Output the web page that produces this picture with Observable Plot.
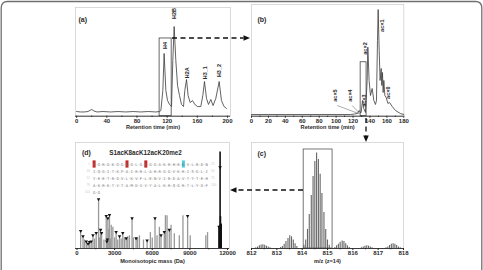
<!DOCTYPE html>
<html><head><meta charset="utf-8">
<script src="https://cdn.jsdelivr.net/npm/d3@7"></script>
<script src="https://cdn.jsdelivr.net/npm/@observablehq/plot@0.6"></script>
<style>
html,body{margin:0;padding:0;background:#fff;}
#fig{position:relative;width:483px;height:270px;overflow:hidden;background:#fff;}
#fig svg{position:absolute;left:0;top:0;}
</style></head><body><div id="fig"></div>
<script>
// ---------- (a) histone chromatogram ----------
const aTime = [0,5,10,15,20,23,27,35,45,55,65,75,85,95,105,110,111.7,114.3,116,118.3,120.5,123.2,125.8,127.5,129.3,131.5,133.8,136.4,139,141.7,143.4,145.7,147.8,150.5,153.6,156.7,160.3,164.6,167.3,169.5,172.2,174.8,177.9,180.9,184.5,189,192,195.5,198.7];
const aSignal = [4.3,3.9,3.9,4.3,6.2,4.8,3.9,4.3,3.9,4.3,3.9,4.3,3.9,4.3,3.9,4.3,5.2,23.6,57.7,23.6,14.4,10.8,8.9,51.2,82.5,51.2,28.2,19,10.8,8.9,23.6,33.8,19,12.6,14.4,10.8,8.9,8.9,19,31.9,16.3,10.8,15.4,9.8,16.3,31.9,14.4,8.9,7.1];
const aPeakNames = ["H4","H2B","H2A","H3_1","H3_2"];
const aPeakTime = [117,129.5,146,170,189];
const aPeakLabelY = [65,94.5,40,40,42];
const aBoxTime = [110,126];
const aBoxTop = 71.5;
const aTicks = [0,40,80,120,160,200];
const aMinor = [20,60,100,140,180];

// ---------- (b) H4 proteoform chromatogram ----------
const bTime = [0,20,40,60,80,100,117,122,125,127.3,128.5,129.6,131.2,132.7,134.7,136.7,137.5,139,140.6,142.6,144.6,146.5,147.7,148.9,149.7,150.9,152,153.3,154,154.8,155.6,156.4,157.6,159.2,161.2,163.1,166.3,170.2,176,180];
const bSignal = [1.5,1.5,1.5,1.5,1.5,1.5,1.5,2,2.4,5.1,3.3,3.3,14,6.9,3.3,32,61.8,32,18.5,24.8,14,10.5,14,67.8,95.5,58.8,32,42.7,27.5,39.1,21.2,32,18.5,16.7,11.4,12.3,8.7,5.1,2.4,1.5];
const bPeakNames = ["ac×5","ac×4","ac×3","ac×2","ac×1","ac×0"];
const bPeakTime = [99.3,117,133.5,135,154.5,161.6];
const bPeakLabelY = [18.5,18.5,14,60.6,81,21];
const bLeaderFrom = [[101.3,9.6],[119,9.6]];
const bLeaderTo = [[127,2.2],[128,2.2]];
const bBoxTime = [129,136];
const bBoxTop = 48.3;
const bTicks = [0,20,40,60,80,100,120,140,160,180];
const bMinor = [10,30,50,70,90,110,130,150,170];

// ---------- (c) isotopic envelope, m/z (z=14) ----------
const cMz = [812.17,812.24,812.31,812.38,812.45,812.52,812.59,812.66,812.73,
  813.15,813.22,813.29,813.36,813.44,813.51,813.58,813.65,813.72,813.79,
  814.07,814.14,814.21,814.28,814.36,814.43,814.50,814.57,814.64,814.71,814.78,814.86,814.93,815.00,815.07,
  815.29,815.36,815.43,815.50,815.58,815.65,815.72,815.79,815.86,
  816.34,816.41,816.48,816.55,816.62,816.69,816.76,
  817.31,817.38,817.45,817.52,817.59,817.66,817.73,817.80,817.87];
const cInt = [0.8,1.5,2.5,3.3,3.5,3,2.2,1.4,0.7,
  1,2,4,6.5,9.5,12,11,8,4.5,2,
  3,8,18,32,50,68,82,90,84,70,52,34,18,8,3,
  1,2.5,4,6,7,6.5,4.5,2.5,1,
  0.8,1.5,2.2,2.5,2.2,1.5,0.8,
  0.8,1.5,2.8,4,4.5,4,2.8,1.5,0.7];
const cBoxMz = [814.06,815.2];
const cBoxTop = 93.4;
const cTicks = [812,813,814,815,816,817,818];
const cMinor = [812.5,813.5,814.5,815.5,816.5,817.5];

// ---------- (d) deconvoluted fragment masses ----------
const dMass = [290,480,600,740,880,1000,1130,1270,1400,1530,1720,1800,1880,1960,2150,2330,2380,2420,2460,2530,2590,2660,2730,2860,3000,3120,3250,3390,3520,3650,3780,3920,4050,4180,4390,4500,4710,4830,4980,5300,5590,5850,6000,6220,6380,6570,6700,6960,7050,7180,7360,7500,7760,8160,8450,8820,9030,10270,10410,11320,11380,11410,11440,11500];
const dHeight = [16,11,8,6,4,5.5,6,12,9,14,46,10,17,14,8,30,6,8,28,18,31,9,22,20,10,15,8,11,9,14,10,9,11,12,28,10,9,10,12,8,7,15,10,28,12,20,12,15,31,31,17,22,14,12,31,30,12,12,15,20,22,91,30,23];
const dMarkMass = [290,480,740,880,1000,1130,1270,1530,1720,1880,1960,2330,2380,2420,2460,2590,3120,3390,3650,3920,4390,4710,5590,6220,6700,6960,7360,8820,11320,11410];
const dMarkHeight = [16,11,6,4,5.5,6,12,14,46,17,14,30,6,8,28,31,15,11,14,9,28,9,7,28,12,15,17,30,20,76];
const dTicks = [0,3000,6000,9000,12000];
const dMinor = [1500,4500,7500,10500];
const dTitle = "S1acK8acK12acK20me2";
const seqLines = ["SGRGKGGKGLGKGGAKRHRKVLRDN","IQGITKPAIRRLARRGGVKRISGLI","YEETRGVLKVFLENVIRDAVTYTEH","AKRKTVTAMDVVYALKRQGRTLYGF","GG"];
const seqMods = [1,8,12,20];
const seqModType = ["ac","ac","ac","me2"];

// ---------- layout ----------
const W = 483, H = 270;
const boxes = {
  a:{left:75,right:230,top:7,bottom:115.7},
  b:{left:251,right:403.3,top:4,bottom:115.7},
  c:{left:251,right:403,top:142,bottom:248},
  d:{left:75,right:229,top:142,bottom:248}
};
const FONT = "'Liberation Sans', Arial, sans-serif";
const INK = "#2a2a2a";

function panel(box, xDomain, ticks, minor, fmt, xTitle, titleDy, letter, letterDx, letterDy, marks) {
  return Plot.plot({
    width: W, height: H,
    marginLeft: box.left, marginRight: W - box.right,
    marginTop: box.top, marginBottom: H - box.bottom,
    x: {domain: xDomain, label: null},
    y: {domain: [0, 100], axis: null},
    style: {background: "none", fontFamily: FONT, fontSize: "6px", fontWeight: "bold", color: INK, overflow: "visible"},
    marks: [
      Plot.frame({stroke: "#d2d2d2", strokeWidth: 0.8}),
      ...marks,
      Plot.ruleY([0], {stroke: INK, strokeWidth: 0.9}),
      Plot.axisX({ticks, tickSize: 2, tickPadding: 0.5, tickFormat: fmt, label: null, fontSize: 6}),
      Plot.axisX({ticks: minor, tickSize: 1.3, tickFormat: () => "", label: null}),
      Plot.text([xTitle], {text: d => d, frameAnchor: "bottom", dy: titleDy, fontSize: 5.6}),
      Plot.text([letter], {text: d => d, frameAnchor: "top-left", dx: letterDx, dy: letterDy, textAnchor: "start", fontSize: 7})
    ]
  });
}

const fig = document.getElementById("fig");

// (a)
const aData = aTime.map((t, i) => ({t, v: aSignal[i]}));
const aLab = aPeakNames.map((n, i) => ({n, t: aPeakTime[i], v: aPeakLabelY[i]}));
fig.append(panel(boxes.a, [-1.5, 204], aTicks, aMinor, d => String(d), "Retention time (min)", 12.8, "(a)", 3, 10, [
  Plot.line(aData, {x: "t", y: "v", stroke: "#3a3a3a", strokeWidth: 0.8}),
  Plot.rect([{x1: aBoxTime[0], x2: aBoxTime[1], y2: aBoxTop}], {x1: "x1", x2: "x2", y1: 0, y2: "y2", fill: "none", stroke: "#444", strokeWidth: 0.8}),
  Plot.text(aLab, {x: "t", y: "v", text: "n", rotate: -90, fontSize: 5.5})
]));

// (b)
const bData = bTime.map((t, i) => ({t, v: bSignal[i]}));
const bLab = bPeakNames.map((n, i) => ({n, t: bPeakTime[i], v: bPeakLabelY[i]}));
const bLinks = bLeaderFrom.map((f, i) => ({x1: f[0], y1: f[1], x2: bLeaderTo[i][0], y2: bLeaderTo[i][1]}));
fig.append(panel(boxes.b, [0, 180], bTicks, bMinor, d => String(d), "Retention time (min)", 12.8, "(b)", 6, 13, [
  Plot.line(bData, {x: "t", y: "v", stroke: "#3a3a3a", strokeWidth: 0.8}),
  Plot.rect([{x1: bBoxTime[0], x2: bBoxTime[1], y2: bBoxTop}], {x1: "x1", x2: "x2", y1: 0, y2: "y2", fill: "none", stroke: "#444", strokeWidth: 0.8}),
  Plot.link(bLinks, {x1: "x1", y1: "y1", x2: "x2", y2: "y2", stroke: "#555", strokeWidth: 0.5}),
  Plot.text(bLab, {x: "t", y: "v", text: "n", rotate: -90, fontSize: 5.5})
]));

// (c)
const cData = cMz.map((m, i) => ({m, v: cInt[i]}));
fig.append(panel(boxes.c, [812, 818], cTicks, cMinor, d => String(d), "m/z (z=14)", 14, "(c)", 6, 8.7, [
  Plot.ruleX(cData, {x: "m", y1: 0, y2: "v", stroke: "#666", strokeWidth: 1.1}),
  Plot.rect([{x1: cBoxMz[0], x2: cBoxMz[1], y2: cBoxTop}], {x1: "x1", x2: "x2", y1: 0, y2: "y2", fill: "none", stroke: "#555", strokeWidth: 0.8})
]));

// (d)
const dData = dMass.map((m, i) => ({m, v: dHeight[i]}));
const dMarks = dMarkMass.map((m, i) => ({m, v: dMarkHeight[i]}));
fig.append(panel(boxes.d, [-120, 12160], dTicks, dMinor, d => String(d), "Monoisotopic mass (Da)", 14, "(d)", 6.5, 8, [
  Plot.ruleX(dData, {x: "m", y1: 0, y2: "v", stroke: d => d.m > 11000 ? "#111" : "#999", strokeWidth: d => d.m > 11000 ? 1.6 : 1.3}),
  Plot.dot(dMarks, {x: "m", y: "v", symbol: "triangle", rotate: 180, r: 1.3, fill: "#111", stroke: "none", dy: -0.6}),
  Plot.text([dTitle], {text: d => d, frameAnchor: "top", dx: -7, dy: 8, fontSize: 6.3})
]));

// ---------- overlay: outer frame, dashed arrows, sequence map ----------
const ov = d3.select(fig).append("svg").attr("width", W).attr("height", H);
ov.append("path").attr("d", "M1.2,275 V8 Q1.2,1.5 7.5,1.5 H475.5 Q481.8,1.5 481.8,8 V275")
  .attr("fill", "none").attr("stroke", "#707070").attr("stroke-width", 1.3);

function arrow(x1, y1, x2, y2) {
  const dx = x2 - x1, dy = y2 - y1, len = Math.hypot(dx, dy), ux = dx / len, uy = dy / len;
  const hl = 6.5, hw = 2.8;
  const bx = x2 - ux * hl, by = y2 - uy * hl;
  ov.append("line").attr("x1", x1).attr("y1", y1).attr("x2", bx).attr("y2", by)
    .attr("stroke", "#111").attr("stroke-width", 1.3).attr("stroke-dasharray", "5,3.5");
  ov.append("path").attr("d", `M${x2},${y2}L${bx - uy * hw},${by + ux * hw}L${bx + uy * hw},${by - ux * hw}Z`).attr("fill", "#111");
}
arrow(172, 38, 250, 38);
arrow(366, 118, 366, 142);
arrow(303, 190, 230, 190);

// sequence map in (d)
const seqX0 = 93, seqStep = 4.7, seqY0 = 164, seqDY = 7;
seqMods.forEach((p, i) => {
  const idx = p - 1, line = Math.floor(idx / 25), col = idx % 25;
  ov.append("rect").attr("x", seqX0 + col * seqStep - 0.4).attr("y", seqY0 + line * seqDY - 3.6)
    .attr("width", 3).attr("height", 7.2)
    .attr("fill", seqModType[i] === "ac" ? "#c62828" : "#49d0dc");
});
seqLines.forEach((s, i) => {
  ov.append("text").attr("x", seqX0).attr("y", seqY0 + i * seqDY).attr("dominant-baseline", "central")
    .attr("font-family", "'DejaVu Sans Mono', 'Liberation Mono', monospace").attr("font-size", 3.9)
    .attr("fill", "#777").text(s.split("").join("-"));
  ov.append("text").attr("x", 90).attr("y", seqY0 + i * seqDY).attr("dominant-baseline", "central")
    .attr("text-anchor", "end").attr("font-family", FONT).attr("font-size", 3.2).attr("fill", "#ccc").text(String(i * 25 + 1));
  if (s.length === 25) ov.append("text").attr("x", 211).attr("y", seqY0 + i * seqDY).attr("dominant-baseline", "central")
    .attr("font-family", FONT).attr("font-size", 3.2).attr("fill", "#ccc").text(String(i * 25 + 25));
});
</script></body></html>
